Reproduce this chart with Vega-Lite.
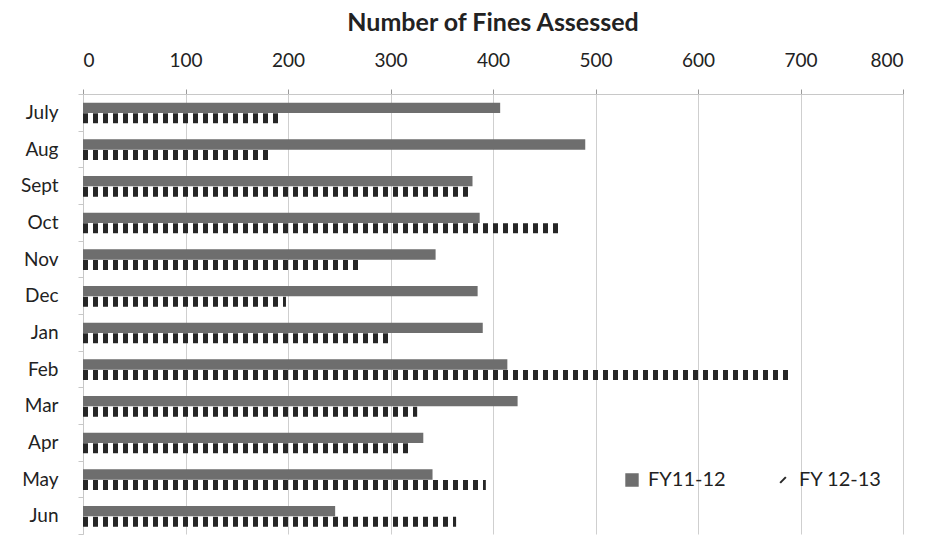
{
  "$schema": "https://vega.github.io/schema/vega-lite/v6.json",
  "width": 820,
  "height": 440,
  "autosize": {"type": "none"},
  "padding": {"left": 83, "top": 94, "right": 32, "bottom": 4},
  "background": "white",
  "title": {
    "text": "Number of Fines Assessed",
    "font": "Lato",
    "fontSize": 25,
    "fontWeight": "bold",
    "color": "#222222",
    "anchor": "middle",
    "offset": 15
  },
  "config": {
    "view": {"stroke": null},
    "font": "Lato"
  },
  "data": {
    "values": [
      {"month": "July", "series": "FY11-12", "fines": 407},
      {"month": "July", "series": "FY 12-13", "fines": 195},
      {"month": "Aug", "series": "FY11-12", "fines": 490},
      {"month": "Aug", "series": "FY 12-13", "fines": 185},
      {"month": "Sept", "series": "FY11-12", "fines": 380},
      {"month": "Sept", "series": "FY 12-13", "fines": 376},
      {"month": "Oct", "series": "FY11-12", "fines": 387},
      {"month": "Oct", "series": "FY 12-13", "fines": 467},
      {"month": "Nov", "series": "FY11-12", "fines": 344},
      {"month": "Nov", "series": "FY 12-13", "fines": 272},
      {"month": "Dec", "series": "FY11-12", "fines": 385},
      {"month": "Dec", "series": "FY 12-13", "fines": 198},
      {"month": "Jan", "series": "FY11-12", "fines": 390},
      {"month": "Jan", "series": "FY 12-13", "fines": 300},
      {"month": "Feb", "series": "FY11-12", "fines": 414},
      {"month": "Feb", "series": "FY 12-13", "fines": 690},
      {"month": "Mar", "series": "FY11-12", "fines": 424},
      {"month": "Mar", "series": "FY 12-13", "fines": 326},
      {"month": "Apr", "series": "FY11-12", "fines": 332},
      {"month": "Apr", "series": "FY 12-13", "fines": 320},
      {"month": "May", "series": "FY11-12", "fines": 341},
      {"month": "May", "series": "FY 12-13", "fines": 393},
      {"month": "Jun", "series": "FY11-12", "fines": 246},
      {"month": "Jun", "series": "FY 12-13", "fines": 364}
    ]
  },
  "encoding": {
    "y": {
      "field": "month",
      "type": "nominal",
      "sort": ["July", "Aug", "Sept", "Oct", "Nov", "Dec", "Jan", "Feb", "Mar", "Apr", "May", "Jun"],
      "scale": {"paddingInner": 0, "paddingOuter": 0},
      "axis": {
        "title": null,
        "labelFont": "Lato",
        "labelFontSize": 19,
        "labelColor": "#222222",
        "labelPadding": 20,
        "tickBand": "extent",
        "tickSize": 5,
        "tickColor": "#c8c8c8",
        "domainColor": "#c8c8c8"
      }
    },
    "color": {
      "field": "series",
      "type": "nominal",
      "scale": {"domain": ["FY11-12", "FY 12-13"], "range": ["#6e6e6e", "#262626"]},
      "legend": {
        "title": null,
        "orient": "none",
        "direction": "horizontal",
        "legendX": 539,
        "legendY": 376,
        "labelFont": "Lato",
        "labelFontSize": 20,
        "labelColor": "#222222",
        "labelOffset": 6,
        "columnPadding": 47,
        "symbolSize": 130,
        "symbolStrokeWidth": 2,
        "encode": {
          "symbols": {
            "update": {
              "shape": {"signal": "datum.value === 'FY 12-13' ? 'M-0.5,0.5L0.5,-0.5' : 'square'"},
              "fill": {"signal": "datum.value === 'FY 12-13' ? 'transparent' : '#6e6e6e'"},
              "stroke": {"signal": "datum.value === 'FY 12-13' ? '#555555' : '#6e6e6e'"},
              "strokeWidth": {"value": 2},
              "opacity": {"value": 1}
            }
          }
        }
      }
    }
  },
  "layer": [
    {
      "transform": [{"filter": "datum.series === 'FY11-12'"}],
      "mark": {"type": "bar", "height": {"band": 0.28}, "yOffset": -4.5},
      "encoding": {
        "x": {
          "field": "fines",
          "type": "quantitative",
          "scale": {"domain": [0, 800], "nice": false},
          "axis": {
            "orient": "top",
            "title": null,
            "values": [0, 100, 200, 300, 400, 500, 600, 700, 800],
            "labelFont": "Lato",
            "labelFontSize": 19,
            "labelColor": "#222222",
            "labelPadding": 19,
            "grid": true,
            "gridColor": "#cfcfcf",
            "gridWidth": 1,
            "domainColor": "#c8c8c8",
            "tickColor": "#9a9a9a",
            "tickSize": 5
          }
        }
      }
    },
    {
      "transform": [{"filter": "datum.series === 'FY 12-13'"}],
      "mark": {"type": "rule", "strokeWidth": 10, "strokeDash": [5, 5], "strokeCap": "butt", "yOffset": 6},
      "encoding": {
        "x": {"datum": 0, "type": "quantitative"},
        "x2": {"field": "fines", "type": "quantitative"}
      }
    }
  ]
}
